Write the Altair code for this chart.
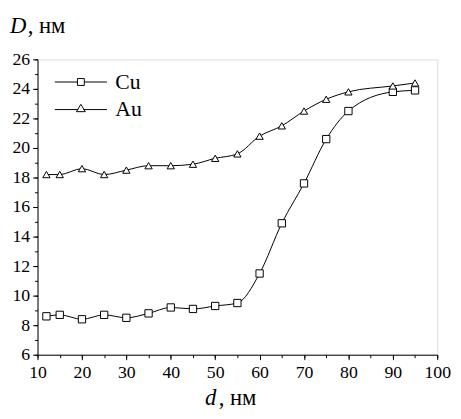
import altair as alt
import pandas as pd

# ---- data ----
d_values = [12, 15, 20, 25, 30, 35, 40, 45, 50, 55, 60, 65, 70, 75, 80, 90, 95]
cu_D = [8.6, 8.7, 8.4, 8.7, 8.5, 8.8, 9.2, 9.1, 9.3, 9.5, 11.5, 14.9, 17.6, 20.6, 22.5, 23.8, 23.9]
au_D = [18.2, 18.2, 18.6, 18.2, 18.5, 18.8, 18.8, 18.9, 19.3, 19.6, 20.8, 21.5, 22.5, 23.3, 23.8, 24.2, 24.4]
series_names = ["Cu", "Au"]

x_major = [10, 20, 30, 40, 50, 60, 70, 80, 90, 100]
x_minor = list(range(10, 101, 5))
y_major = [6, 8, 10, 12, 14, 16, 18, 20, 22, 24, 26]
y_minor = list(range(6, 27, 1))

y_title_italic = "D"
x_title_italic = "d"
unit_text = ", нм"

rows = []
for name, vals in zip(series_names, [cu_D, au_D]):
    for dv, Dv in zip(d_values, vals):
        rows.append({"d": dv, "D": Dv, "series": name})
df = pd.DataFrame(rows)

FONT = "Liberation Serif"
xs = alt.Scale(domain=[10, 100], nice=False, zero=False)
ys = alt.Scale(domain=[6, 26], nice=False, zero=False)

minor_x_axis = alt.Axis(values=x_minor, tickSize=3, labels=False, domain=False, grid=False,
                        title=None, orient="bottom", tickColor="black", ticks=True)
minor_y_axis = alt.Axis(values=y_minor, tickSize=3, labels=False, domain=False, grid=False,
                        title=None, orient="left", tickColor="black", ticks=True)
major_x_axis = alt.Axis(values=x_major, tickSize=5, labelFont=FONT, labelFontSize=18, labelColor="black",
                        labelPadding=4, domainColor="black", tickColor="black", grid=False, title=None,
                        orient="bottom", labelFlush=False, labelOverlap=False)
major_y_axis = alt.Axis(values=y_major, tickSize=5, labelFont=FONT, labelFontSize=18, labelColor="black",
                        labelPadding=3, domainColor="black", tickColor="black", grid=False, title=None,
                        orient="left", labelOverlap=False)

line = alt.Chart(df).mark_line(interpolate="monotone", color="black", strokeWidth=1).encode(
    x=alt.X("d:Q", scale=xs, axis=minor_x_axis),
    y=alt.Y("D:Q", scale=ys, axis=minor_y_axis),
    detail="series:N",
)

points = alt.Chart(df).mark_point(filled=True, fill="white", stroke="black", strokeWidth=1,
                                  size=55, opacity=1).encode(
    x=alt.X("d:Q", scale=xs, axis=major_x_axis),
    y=alt.Y("D:Q", scale=ys, axis=major_y_axis),
    shape=alt.Shape("series:N",
                    scale=alt.Scale(domain=series_names, range=["square", "triangle-up"]),
                    legend=None),
)

# legend carrier: line + marker glyphs as custom symbol paths (no marks drawn)
sq_path = "M-1,0H-0.132M0.132,0H1M-0.132,-0.132H0.132V0.132H-0.132Z"
tri_path = "M-1,0H-0.1M0.1,0H1M0,-0.2L0.17,0.08H-0.17Z"
legend_layer = alt.Chart(df).transform_filter("false").mark_point(
    color="black", strokeWidth=1, filled=False).encode(
    shape=alt.Shape("series:N",
                    scale=alt.Scale(domain=series_names, range=[sq_path, tri_path]),
                    legend=alt.Legend(title=None, orient="none", legendX=17, legendY=13,
                                      clipHeight=20,
                                      symbolSize=2809, symbolStrokeWidth=1, symbolStrokeColor="black",
                                      symbolFillColor="white", symbolOpacity=1,
                                      labelFont=FONT, labelFontSize=22, labelColor="black",
                                      labelOffset=8, rowPadding=6, padding=0)),
)

def txt(t, xpos, ypos, italic):
    kw = dict(font=FONT, fontSize=23, align="left", baseline="alphabetic", color="black")
    if italic:
        kw["fontStyle"] = "italic"
    return alt.Chart(pd.DataFrame({"t": [t]})).mark_text(**kw).encode(
        x=alt.value(xpos), y=alt.value(ypos), text="t:N")

titles = [
    txt(y_title_italic, -28, -27, True),
    txt(unit_text, -10, -27, False),
    txt(x_title_italic, 170, 351, True),
    txt(unit_text, 184, 351, False),
]

chart = alt.layer(line, points, legend_layer, *titles).resolve_axis(
    x="independent", y="independent").resolve_scale(shape="independent").resolve_legend(
    shape="independent").properties(
    width=406, height=300,
    autosize=alt.AutoSizeParams(type="none"),
    padding={"left": 30, "top": 49, "right": 16, "bottom": 54},
).configure_view(stroke="black", strokeWidth=1).configure(
    background="white", font=FONT
).configure_axis(labelFont=FONT).configure_legend(labelFont=FONT)

chart.save("out.html", embed_options={"renderer": "svg", "actions": False})
